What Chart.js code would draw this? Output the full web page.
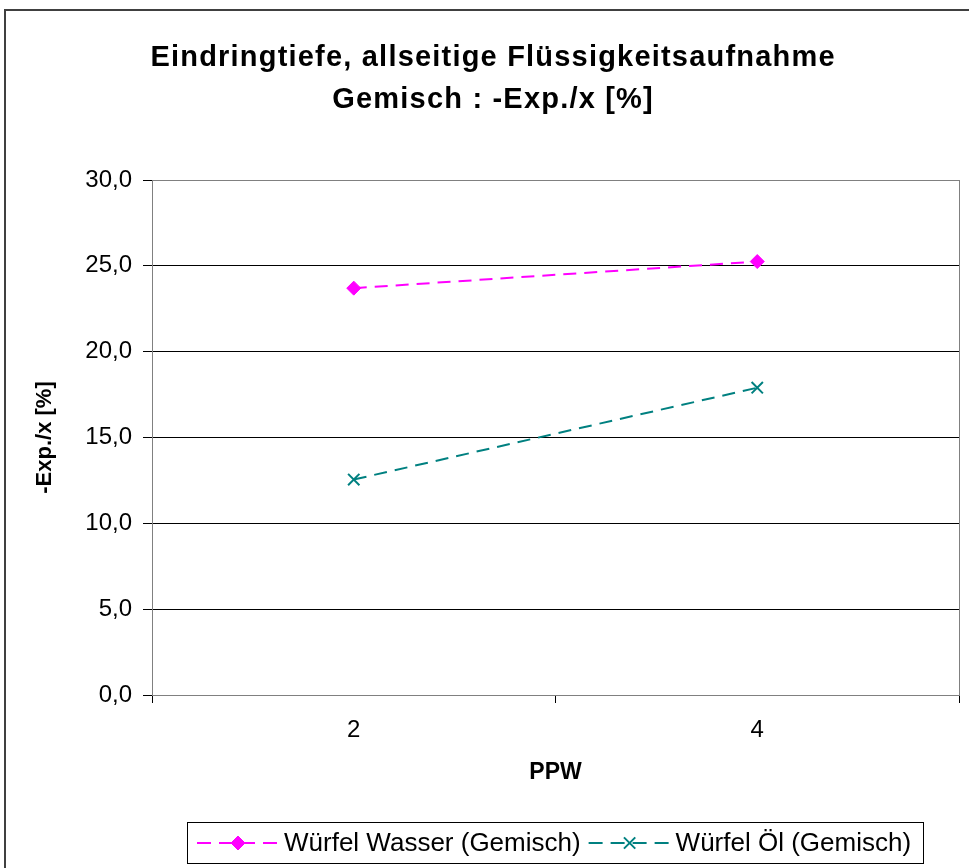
<!DOCTYPE html>
<html>
<head>
<meta charset="utf-8">
<title>Eindringtiefe</title>
<script src="https://cdn.jsdelivr.net/npm/chart.js@4.4.0/dist/chart.umd.min.js"></script>
<style>
  html, body { margin: 0; padding: 0; background: #fff; overflow: hidden; }
  canvas { display: block; }
</style>
</head>
<body>
<canvas id="grafico" width="969" height="868"></canvas>
<script>
const kategorien = ['2', '4'];
const wuerfelWasser = [23.7, 25.25];
const wuerfelOel = [12.55, 17.9];
const yTicks = { min: 0, max: 30, step: 5 };
const titelZeilen = ['Eindringtiefe, allseitige Flüssigkeitsaufnahme', 'Gemisch : -Exp./x [%]'];

const schrift = '"Liberation Sans", Arial, sans-serif';

// Rahmen, Titel, Plotrand und Legende selbst zeichnen (wie im Excel-Original)
const rahmenPlugin = {
    id: 'rahmen',
    beforeDraw(chart) {
        const ctx = chart.ctx;
        ctx.save();
        ctx.fillStyle = '#fff';
        ctx.fillRect(0, 0, chart.width, chart.height);
        ctx.strokeStyle = '#404040';
        ctx.lineWidth = 2;
        ctx.strokeRect(5, 10, chart.width + 20, chart.height + 20);

        // Titel, etwas gesperrt
        const a = chart.chartArea;
        const mitte = (a.left + a.right) / 2 - 63;
        const sp = 1.2;
        ctx.fillStyle = '#000';
        ctx.font = 'bold 29px ' + schrift;
        ctx.letterSpacing = sp + 'px';
        ctx.textBaseline = 'middle';
        ctx.textAlign = 'left';
        titelZeilen.forEach((z, i) => {
            const w = ctx.measureText(z).width - sp;
            ctx.fillText(z, mitte - w / 2, 58 + i * 42);
        });
        ctx.letterSpacing = '0px';
        ctx.restore();
    },
    beforeDatasetsDraw(chart) {
        const a = chart.chartArea;
        const ctx = chart.ctx;
        ctx.save();
        ctx.strokeStyle = '#808080';
        ctx.lineWidth = 1;
        ctx.strokeRect(a.left + 0.5, a.top + 0.5, a.right - a.left, a.bottom - a.top);
        ctx.restore();
    },
    afterDraw(chart) {
        const ctx = chart.ctx;
        const a = chart.chartArea;
        const probe = 82;
        const padL = 10, padR = 12, textGap = 5, gap = 8;
        ctx.save();
        ctx.font = '26px ' + schrift;
        const items = chart.data.datasets.map(ds => ({ ds, w: probe + textGap + ctx.measureText(ds.label).width }));
        const total = items.reduce((s, it) => s + it.w, 0) + gap * (items.length - 1) + padL + padR;
        const boxL = Math.round((a.left + a.right) / 2 - total / 2);
        const boxT = 822, boxH = 41;
        ctx.strokeStyle = '#000';
        ctx.lineWidth = 1;
        ctx.strokeRect(boxL + 0.5, boxT + 0.5, Math.round(total), boxH);
        let x = boxL + padL;
        const y = boxT + boxH / 2 + 0.5;
        items.forEach(it => {
            const ds = it.ds;
            ctx.strokeStyle = ds.borderColor;
            ctx.lineWidth = ds.borderWidth;
            ctx.setLineDash([14, 8]);
            ctx.beginPath();
            ctx.moveTo(x, y);
            ctx.lineTo(x + probe, y);
            ctx.stroke();
            ctx.setLineDash([]);
            ctx.fillStyle = ds.pointBackgroundColor;
            ctx.strokeStyle = ds.pointBorderColor;
            ctx.lineWidth = ds.pointBorderWidth;
            Chart.helpers.drawPoint(ctx, { pointStyle: ds.pointStyle, radius: ds.pointRadius, rotation: 0, borderWidth: ds.pointBorderWidth }, x + probe / 2, y);
            ctx.fillStyle = '#000';
            ctx.textBaseline = 'middle';
            ctx.textAlign = 'left';
            ctx.fillText(ds.label, x + probe + textGap, y + 1);
            x += it.w + gap;
        });
        ctx.restore();
    }
};

new Chart(document.getElementById('grafico'), {
    type: 'line',
    data: {
        labels: kategorien,
        datasets: [
            {
                label: 'Würfel Wasser (Gemisch)',
                data: wuerfelWasser,
                borderColor: '#FF00FF',
                borderWidth: 2,
                borderDash: [13, 8],
                pointStyle: 'rectRot',
                pointRadius: 7,
                pointBackgroundColor: '#FF00FF',
                pointBorderColor: '#FF00FF',
                pointBorderWidth: 1,
                tension: 0
            },
            {
                label: 'Würfel Öl (Gemisch)',
                data: wuerfelOel,
                borderColor: '#008080',
                borderWidth: 2,
                borderDash: [13, 8],
                pointStyle: 'crossRot',
                pointRadius: 8,
                pointBackgroundColor: '#008080',
                pointBorderColor: '#008080',
                pointBorderWidth: 2,
                tension: 0
            }
        ]
    },
    options: {
        responsive: false,
        animation: false,
        layout: { padding: { left: 26, right: 9, top: 180, bottom: 73 } },
        plugins: {
            legend: { display: false },
            tooltip: { enabled: false },
            title: { display: false }
        },
        scales: {
            x: {
                offset: true,
                grid: { display: true, drawOnChartArea: false, offset: true, tickLength: 8, color: '#000' },
                border: { color: '#808080' },
                ticks: { color: '#000', font: { family: schrift, size: 24 }, padding: 13 },
                title: {
                    display: true,
                    text: 'PPW',
                    color: '#000',
                    font: { family: schrift, size: 23, weight: 'bold' },
                    padding: { top: 0, bottom: 9 }
                },
                afterFit(scale) { scale.height = 100; }
            },
            y: {
                min: yTicks.min,
                max: yTicks.max,
                grid: { color: '#000', tickLength: 9 },
                border: { color: '#808080' },
                ticks: {
                    stepSize: yTicks.step,
                    color: '#000',
                    padding: 11,
                    font: { family: schrift, size: 24 },
                    callback: v => v.toFixed(1).replace('.', ',')
                },
                title: {
                    display: true,
                    text: '-Exp./x [%]',
                    color: '#000',
                    font: { family: schrift, size: 22, weight: 'bold' },
                    padding: { top: 6, bottom: 0 }
                },
                afterFit(scale) { scale.width = 126; }
            }
        }
    },
    plugins: [rahmenPlugin]
});
</script>
</body>
</html>
